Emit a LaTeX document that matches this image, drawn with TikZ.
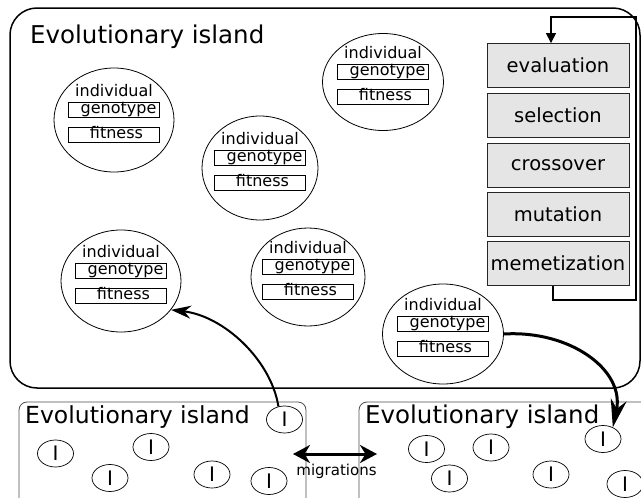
\documentclass[tikz,border=0pt]{standalone}
\usepackage{fontspec}
\setmainfont{DejaVu Sans}
\usetikzlibrary{shapes.geometric,arrows.meta,calc}
\newcommand\mkindiv[5]{%
  \node[indiv, minimum width=#4pt, minimum height=#5pt] (#1) at (#2,#3) {};
  \node[lab] (#1-n) at ({#2},{#3-29}) {individual};
  \node[gbox] (#1-g) at ({#2},{#3-10}) {\hspace*{9pt}genotype};
  \node[gbox] (#1-f) at ({#2},{#3+15}) {\hspace*{5pt}fitness};
}
\begin{document}
\begin{tikzpicture}[x=1pt,y=-1pt,
  indiv/.style={draw, ellipse, line width=0.8pt, inner sep=0pt},
  lab/.style={font=\fontsize{16}{16}\selectfont, inner sep=0pt},
  gbox/.style={draw, line width=0.7pt, minimum width=91pt, minimum height=15pt, inner sep=0pt,
    text height=11.5pt, text depth=3.8pt, font=\fontsize{16}{16}\selectfont},
  procbox/.style={draw=black!85, fill=black!10, line width=0.8pt, minimum width=142pt,
    minimum height=44pt, inner sep=0pt, font=\fontsize{19.5}{20}\selectfont},
  smallind/.style={draw, ellipse, line width=0.7pt, minimum width=36pt, minimum height=27pt,
    inner sep=0pt, font=\fontsize{20}{20}\selectfont},
  mainisland/.style={draw, line width=1.5pt, rounded corners=27pt, minimum width=630pt,
    minimum height=380pt, inner sep=0pt},
  smallisland/.style={draw=black!70, line width=0.8pt, rounded corners=8pt, inner sep=0pt},
  title/.style={anchor=base west, inner sep=0pt, font=\fontsize{24.5}{25}\selectfont},
]
\clip (0,0) rectangle (641,498);
% main island
\node[mainisland] (main) at (325,198) {};
\node[title] (maint) at (30,43) {Evolutionary island};
% individuals
\mkindiv{A}{114}{120}{120}{104}
\mkindiv{B}{260}{168}{116}{104}
\mkindiv{C}{383}{82}{121}{97}
\mkindiv{D}{121}{281}{120}{102}
\mkindiv{E}{308}{277}{114}{98}
\mkindiv{F}{443}{334}{121}{100}
% process boxes
\node[procbox] (eval) at (558,65.5) {evaluation};
\node[procbox] (sel) at (558,115) {selection};
\node[procbox] (cross) at (558,165) {crossover};
\node[procbox] (mut) at (558,214.5) {mutation};
\node[procbox] (memet) at (558,263.5) {memetization};
\coordinate (fbB) at (636,300);
\coordinate (fbT) at (636,17);
\draw[line width=1.2pt, -{Triangle[length=10pt,width=10pt]}]
  ([xshift=-5pt]memet.south) |- (fbB) -- (fbT) -| ([xshift=-7pt]eval.north);
% small islands
\node[smallisland, minimum width=287pt, minimum height=130pt] (L) at (162.5,467) {};
\node[smallisland, minimum width=301pt, minimum height=130pt] (R) at (509.5,467) {};
\node[title, font=\fontsize{23.5}{24}\selectfont] (Lt) at (25,423) {Evolutionary island};
\node[title] (Rt) at (365,423) {Evolutionary island};
% small individuals left
\node[smallind] (I1) at (55.5,453.5) {I};
\node[smallind] (I2) at (151,447) {I};
\node[smallind] (I3) at (110,478) {I};
\node[smallind] (I4) at (212,474.5) {I};
\node[smallind] (I5) at (269,481) {I};
\node[smallind, fill=white] (I6) at (284.5,419.5) {I};
% small individuals right
\node[smallind] (J1) at (426.5,449) {I};
\node[smallind] (J2) at (491,447.5) {I};
\node[smallind] (J3) at (449.5,478.5) {I};
\node[smallind] (J4) at (551,474.5) {I};
\node[smallind, fill=white] (J5) at (603,439) {I};
\node[smallind] (J6) at (625,484) {I};
% migrations
\coordinate (m1) at (293,454);
\coordinate (m2) at (377,454);
\draw[line width=3pt, {Stealth[length=17pt,width=18pt]}-{Stealth[length=17pt,width=18pt]}] (m1) -- (m2);
\node[font=\fontsize{15}{15}\selectfont, inner sep=0pt] (mig) at (336.5,471) {migrations};
% migration arrows
\draw[line width=2pt, -{Stealth[length=20pt,width=13pt]}]
  (I6.115) .. controls (271,360) and (224,316) .. (D.-30);
\draw[line width=3pt, -{Stealth[length=28pt,width=16pt]}]
  (F.east) .. controls (570,330) and (625,370) .. (J5.50);
\end{tikzpicture}
\end{document}
